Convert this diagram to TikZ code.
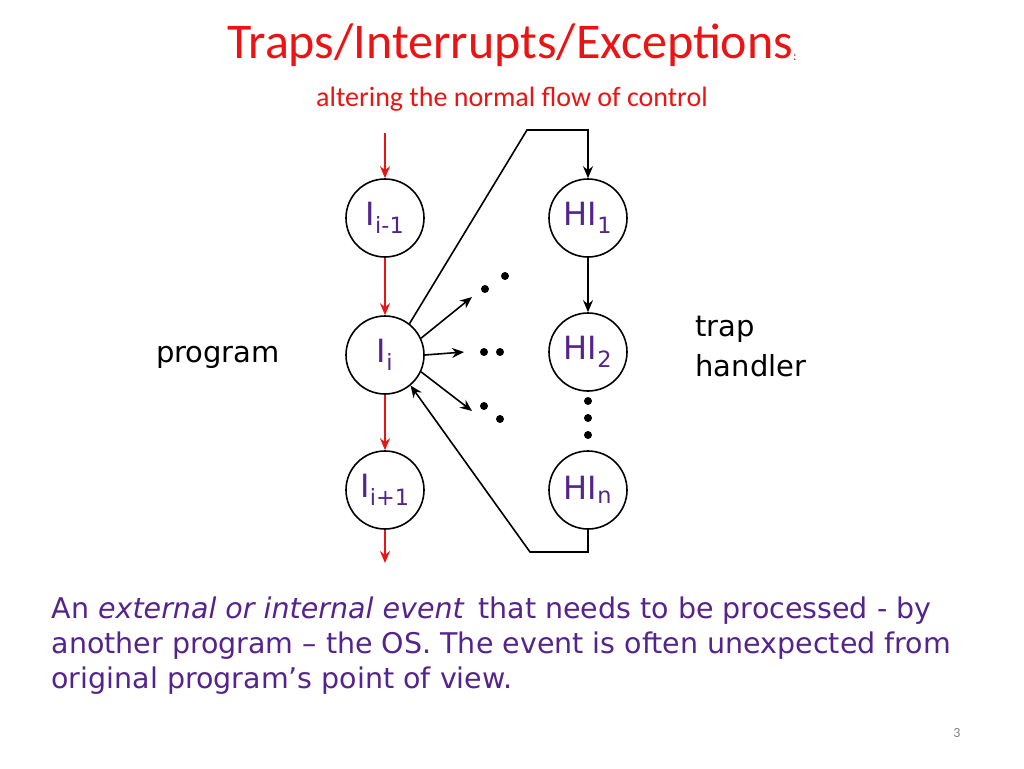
\documentclass[tikz,border=0pt]{standalone}
\usepackage{fontspec}
\setmainfont{DejaVu Sans}
\newfontfamily\calfont{Carlito}
\usetikzlibrary{arrows.meta}
\definecolor{pur}{RGB}{85,35,140}
\definecolor{tred}{RGB}{235,20,20}
\tikzset{st/.style={circle,draw,line width=1.6pt,minimum size=78pt,inner sep=0pt,text=pur,font=\fontsize{32}{32}\selectfont},
ra/.style={draw=tred,line width=2pt,-{Stealth[length=12pt,width=10pt]}},
ba/.style={draw,line width=1.6pt,-{Stealth[length=12pt,width=10pt]}},
dt/.style={circle,fill,inner sep=0pt,minimum size=8pt}}
\begin{document}
\begin{tikzpicture}[x=1pt,y=-1pt]
\useasboundingbox (0,0) rectangle (1024,768);
\node[text=tred,font=\calfont\fontsize{50}{50}\selectfont] (t) at (512,45) {Traps/Interrupts/Exceptions\raisebox{-2pt}{\fontsize{13}{13}\selectfont:}};
\node[text=tred,font=\calfont\fontsize{28}{28}\selectfont] (s) at (512,99) {altering the normal flow of control};
\node[st] (a) at (385,218) {I\textsubscript{i-1}};
\node[st] (b) at (385,355) {I\textsubscript{i}};
\node[st] (c) at (385,490) {I\textsubscript{i+1}};
\node[st] (h1) at (588,218) {HI\textsubscript{1}};
\node[st] (h2) at (588,352) {HI\textsubscript{2}};
\node[st] (hn) at (588,490) {HI\textsubscript{n}};
\coordinate (r0) at (385,133); \coordinate (r3) at (385,563);
\draw[ra] (r0) -- (a); \draw[ra] (a) -- (b); \draw[ra] (b) -- (c); \draw[ra] (c) -- (r3);
\coordinate (p1) at (527,130); \coordinate (p2) at (588,130);
\draw[ba] (b.52) -- (p1) -- (p2) -- (h1);
\draw[ba] (h1) -- (h2);
\coordinate (q1) at (588,552); \coordinate (q2) at (530,552);
\draw[ba] (hn.south) -- (q1) -- (q2) -- (b.-50);
\coordinate (e1) at (472,297); \coordinate (e2) at (464,352); \coordinate (e3) at (472,411);
\draw[ba] (b.25) -- (e1); \draw[ba] (b.0) -- (e2); \draw[ba] (b.-25) -- (e3);
\node[dt] (d1) at (485,289) {}; \node[dt] (d2) at (505,276) {};
\node[dt] (d3) at (484,352) {}; \node[dt] (d4) at (500,352) {};
\node[dt] (d5) at (484,406) {}; \node[dt] (d6) at (500,419) {};
\node[dt] (v1) at (588,401) {}; \node[dt] (v2) at (588,418) {}; \node[dt] (v3) at (588,435) {};
\node[font=\fontsize{29}{29}\selectfont] (pg) at (218,357) {program};
\node[font=\fontsize{29}{40}\selectfont,align=left,anchor=west] (th) at (692,347) {trap\\handler};
\node[text=pur,font=\fontsize{28.5}{35}\selectfont,align=left,anchor=north west] (bt) at (48,593) {An \textit{external or internal event}\, that needs to be processed - by\\another program -- the OS. The event is often unexpected from\\original program’s point of view.};
\node[text=gray,font=\calfont\fontsize{14}{14}\selectfont] (n) at (957,733) {3};
\end{tikzpicture}
\end{document}
